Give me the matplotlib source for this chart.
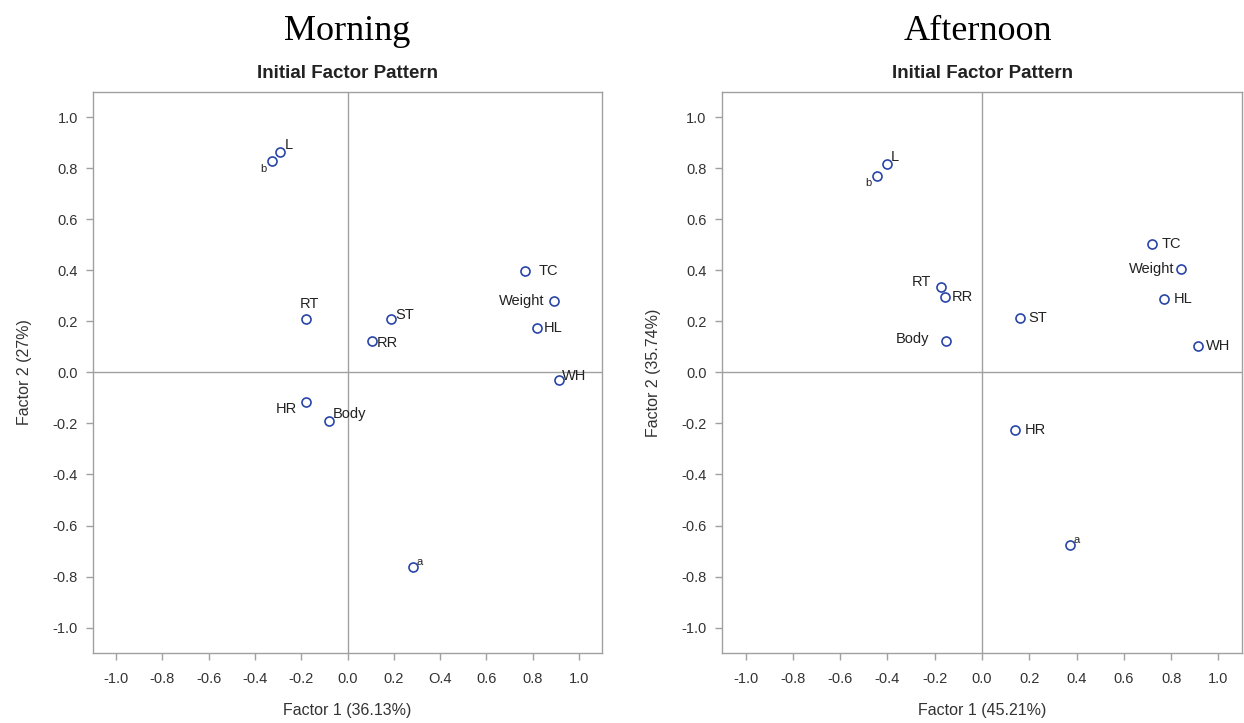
import matplotlib.pyplot as plt

# --- data ---
variables = ["L", "b", "TC", "Weight", "HL", "WH", "RT", "ST", "RR", "HR", "Body", "a"]

morning_f1 = [-0.29, -0.325, 0.768, 0.894, 0.820, 0.915, -0.178, 0.187, 0.104, -0.178, -0.082, 0.282]
morning_f2 = [0.864, 0.828, 0.398, 0.280, 0.174, -0.030, 0.209, 0.209, 0.122, -0.114, -0.190, -0.761]

afternoon_f1 = [-0.402, -0.443, 0.718, 0.843, 0.770, 0.914, -0.174, 0.162, -0.156, 0.139, -0.151, 0.371]
afternoon_f2 = [0.818, 0.772, 0.502, 0.405, 0.289, 0.105, 0.337, 0.214, 0.296, -0.226, 0.125, -0.678]

ticks = [-1.0, -0.8, -0.6, -0.4, -0.2, 0.0, 0.2, 0.4, 0.6, 0.8, 1.0]
tick_labels = ["-1.0", "-0.8", "-0.6", "-0.4", "-0.2", "0.0", "0.2", "0.4", "0.6", "0.8", "1.0"]
morning_xtick_labels = ["-1.0", "-0.8", "-0.6", "-0.4", "-0.2", "0.0", "0.2", "O.4", "0.6", "0.8", "1.0"]

# label placement (offset in points, ha, va)
morning_offsets = {
    "L": (3, 0, "left", "bottom"), "b": (-4, -2, "right", "top"),
    "TC": (10, 0, "left", "center"), "Weight": (-7, 0, "right", "center"),
    "HL": (5, 0, "left", "center"), "WH": (2, 3, "left", "center"),
    "RT": (2, 6, "center", "bottom"), "ST": (3, 3, "left", "center"),
    "RR": (4, -1, "left", "center"), "HR": (-7, -5, "right", "center"),
    "Body": (3, 5, "left", "center"), "a": (3, 0, "left", "bottom"),
}
afternoon_offsets = {
    "L": (3, 0, "left", "bottom"), "b": (-4, -2, "right", "top"),
    "TC": (7, 0, "left", "center"), "Weight": (-5, 0, "right", "center"),
    "HL": (7, 0, "left", "center"), "WH": (6, 0, "left", "center"),
    "RT": (-7, 3, "right", "center"), "ST": (6, 0, "left", "center"),
    "RR": (5, 0, "left", "center"), "HR": (7, 0, "left", "center"),
    "Body": (-12, 1, "right", "center"), "a": (3, 0, "left", "bottom"),
}

frame_col = "#a0a0a0"
marker_col = "#2a45a8"
sans = ["Liberation Sans Narrow", "Liberation Sans", "DejaVu Sans"]

fig = plt.figure(figsize=(12.44, 7.23), dpi=100)


def draw_panel(rect, f1, f2, offsets, xlabels, xlab, ylab, head):
    ax = fig.add_axes(rect)
    ax.set_xlim(-1.1, 1.1)
    ax.set_ylim(-1.1, 1.1)
    ax.axhline(0, color=frame_col, lw=1.0, zorder=1)
    ax.axvline(0, color=frame_col, lw=1.0, zorder=1)
    ax.plot(f1, f2, linestyle="none", marker="o", markersize=6.5,
            markerfacecolor="none", markeredgecolor=marker_col,
            markeredgewidth=1.2, zorder=3)
    for name, x, y in zip(variables, f1, f2):
        dx, dy, ha, va = offsets[name]
        small = name in ("a", "b")
        ax.annotate(name, (x, y), xytext=(dx, dy), textcoords="offset points",
                    ha=ha, va=va, fontsize=8 if small else 10.5,
                    color="#222222", family=["Liberation Sans", "DejaVu Sans"])
    ax.set_xticks(ticks)
    ax.set_xticklabels(xlabels)
    ax.set_yticks(ticks)
    ax.set_yticklabels(tick_labels)
    ax.tick_params(direction="out", length=5, width=1, color=frame_col,
                   labelsize=10.5, labelcolor="#333333", pad=6)
    ax.tick_params(axis="x", pad=9)
    for lab in ax.get_xticklabels() + ax.get_yticklabels():
        lab.set_family(sans)
    for sp in ax.spines.values():
        sp.set_color(frame_col)
        sp.set_linewidth(1.0)
    ax.set_xlabel(xlab, fontsize=11.5, color="#333333", family=sans, labelpad=12)
    ax.set_ylabel(ylab, fontsize=11.5, color="#333333", family=sans, labelpad=15)
    ax.set_title("Initial Factor Pattern", fontsize=13.5, fontweight="bold",
                 color="#222222", family=sans, pad=10)
    cx = rect[0] + rect[2] / 2
    fig.text(cx if head == "Morning" else cx - 0.003, 0.957, head,
             ha="center", va="center", fontsize=26,
             family=["Liberation Serif", "DejaVu Serif"], color="black")
    return ax


draw_panel([0.0748, 0.0968, 0.4091, 0.776], morning_f1, morning_f2, morning_offsets,
           morning_xtick_labels, "Factor 1 (36.13%)", "Factor 2 (27%)", "Morning")
draw_panel([0.5804, 0.0968, 0.418, 0.776], afternoon_f1, afternoon_f2, afternoon_offsets,
           tick_labels, "Factor 1 (45.21%)", "Factor 2 (35.74%)", "Afternoon")

fig.savefig("out.png", dpi=100)
